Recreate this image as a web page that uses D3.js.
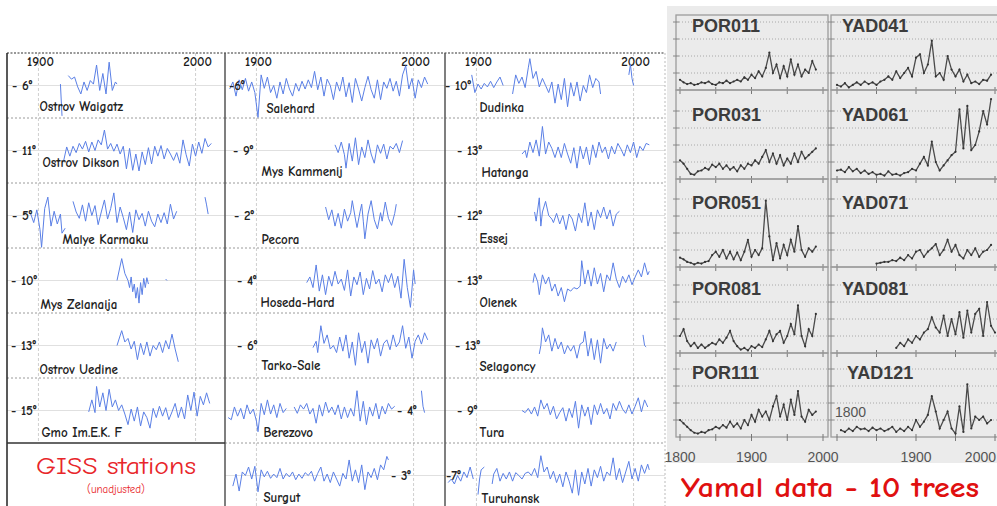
<!DOCTYPE html>
<html>
<head>
<meta charset="utf-8">
<script src="https://cdn.jsdelivr.net/npm/d3@7"></script>
<style>
  body { margin: 0; background: #fff; }
  svg { display: block; }
  .cs { font-family: "Comic Sans MS", "Comic Neue", "Open Sans", sans-serif; }
  .ar { font-family: "Liberation Sans", Arial, sans-serif; }
</style>
</head>
<body>
<svg id="chart" width="997" height="506"></svg>
<script>
// ---------- GISS stations (deviation in °C from the labelled level) ----------
const stationNames = ["Ostrov Waigatz", "Ostrov Dikson", "Malye Karmaku", "Mys Zelanaija", "Ostrov Uedine", "Gmo Im.E.K. F",
  "Salehard", "Mys Kammenij", "Pecora", "Hoseda-Hard", "Tarko-Sale", "Berezovo", "Surgut",
  "Dudinka", "Hatanga", "Essej", "Olenek", "Selagoncy", "Tura", "Turuhansk"];
const stationLevels = ["- 6°", "- 11°", "- 5°", "- 10°", "- 13°", "- 15°",
  "-6°", "- 9°", "- 2°", "- 4°", "- 6°", "- 4°", "- 3°",
  "- 10°", "- 13°", "- 12°", "- 13°", "- 13°", "- 9°", "-7°"];
const gissYearTicks = [1900, 2000];

const ostrovWaigatz = [[1914,0.2],[1915,-4.3],[1916,null],[1919,1.4],[1921,0.9],[1923,1.2],[1925,-0.2],[1927,-1.2],[1929,0.5],[1931,-0.7],[1933,0.7],[1935,0.2],[1937,2.9],[1939,-0.7],[1941,1.7],[1943,-1.2],[1945,3.3],[1947,-0.7],[1949,0.5],[1950,0.2]];
const ostrovDikson = [[1916,-1.5],[1918,0.5],[1920,-0.8],[1922,0.6],[1924,-0.3],[1926,1.0],[1928,0.2],[1930,1.3],[1932,-0.2],[1934,1.2],[1936,0.0],[1938,1.5],[1940,0.8],[1942,2.9],[1944,0.2],[1946,1.0],[1948,-0.1],[1950,0.9],[1952,-0.5],[1954,0.6],[1956,-2.6],[1958,0.3],[1960,-2.8],[1962,-0.5],[1964,-2.9],[1966,-0.2],[1968,-2.0],[1970,0.4],[1972,-1.9],[1974,0.6],[1976,-0.8],[1978,0.7],[1980,-1.2],[1982,0.3],[1984,-0.5],[1986,-1.4],[1988,-0.3],[1990,-1.8],[1992,1.5],[1994,-0.6],[1996,-2.2],[1998,0.9],[2000,-0.8],[2002,1.2],[2004,-0.4],[2006,1.7],[2008,0.5],[2010,1.0]];
const malyeKarmaku = [[1895,0.3],[1897,-1.0],[1899,0.8],[1901,-2.0],[1902,-4.5],[1904,1.0],[1906,2.6],[1908,-1.5],[1910,0.6],[1912,-1.2],[1914,0.2],[1915,-2.5],[1917,-1.8],[1918,null],[1922,2.0],[1924,0.5],[1926,-0.4],[1928,1.5],[1930,-0.8],[1932,1.8],[1934,0.0],[1936,1.4],[1938,-1.3],[1940,0.5],[1942,2.2],[1944,-0.5],[1946,1.0],[1948,3.2],[1950,-1.0],[1952,1.2],[1954,-0.3],[1956,-2.0],[1958,0.5],[1960,-2.4],[1962,0.8],[1964,-0.6],[1966,0.3],[1968,-1.5],[1970,0.6],[1972,-0.8],[1974,-1.6],[1976,0.2],[1978,-1.0],[1980,0.4],[1982,-1.2],[1984,1.6],[1986,-0.5],[1988,0.6],[1989,null],[2006,2.6],[2007,1.5],[2008,0.2]];
const mysZelanaija = [[1950,0.0],[1953,3.1],[1955,1.0],[1957,0.0],[1958,-1.0],[1959,0.5],[1960,-1.6],[1961,-0.5],[1962,-2.5],[1963,-1.0],[1964,-3.2],[1965,-0.3],[1966,-2.0],[1967,0.3],[1968,-1.0],[1969,0.4],[1970,-0.5],[1971,null],[1981,0.2],[1981.8,0.0]];
const ostrovUedine = [[1950,0.0],[1953,2.1],[1955,0.5],[1957,1.0],[1959,-0.5],[1961,0.6],[1963,-2.0],[1965,0.3],[1967,-1.3],[1969,0.5],[1971,-1.5],[1973,0.0],[1975,-0.6],[1977,0.5],[1979,-1.0],[1981,0.7],[1983,-0.5],[1985,1.6],[1987,-0.5],[1989,-2.3]];
const gmoImEKF = [[1932,-0.2],[1934,1.5],[1936,-0.3],[1937,3.4],[1939,0.5],[1941,2.5],[1943,0.0],[1945,3.0],[1947,0.5],[1949,1.5],[1951,0.0],[1953,0.8],[1955,-0.5],[1957,-2.0],[1959,0.2],[1961,-1.5],[1963,0.5],[1965,-2.2],[1967,-0.2],[1969,-1.0],[1971,-2.5],[1973,0.3],[1975,-1.0],[1977,0.6],[1979,-0.8],[1981,0.4],[1983,-1.3],[1985,-0.2],[1987,1.0],[1989,-1.0],[1991,0.5],[1993,-1.2],[1995,2.2],[1997,0.0],[1999,2.6],[2001,-0.8],[2003,2.0],[2005,0.8],[2007,2.5],[2009,1.0]];
const salehard = [[1883,-0.5],[1885,0.5],[1887,-1.5],[1889,0.8],[1891,-0.6],[1893,1.0],[1895,-0.8],[1897,0.5],[1899,-1.0],[1901,-4.5],[1903,1.5],[1905,-0.4],[1907,1.2],[1909,-1.0],[1911,0.0],[1913,-1.8],[1915,0.5],[1917,-1.2],[1919,1.0],[1921,-0.5],[1923,-1.5],[1925,0.3],[1927,-0.8],[1929,0.6],[1931,-0.5],[1933,0.8],[1935,-0.3],[1937,2.0],[1939,-0.6],[1941,1.2],[1943,-1.5],[1945,0.9],[1947,0.0],[1949,-2.0],[1951,0.5],[1953,-0.8],[1955,1.2],[1957,-1.6],[1959,0.4],[1961,-2.4],[1963,1.0],[1965,-0.5],[1967,-2.2],[1969,-0.3],[1971,1.3],[1973,-0.6],[1975,-1.8],[1977,0.8],[1979,-2.0],[1981,0.5],[1983,-0.4],[1985,1.0],[1987,-0.8],[1989,0.6],[1991,-1.5],[1993,1.5],[1995,2.8],[1997,-0.5],[1999,1.0],[2001,-1.8],[2003,0.8],[2005,-0.3],[2007,1.2],[2009,0.2]];
const mysKammenij = [[1950,0.8],[1952,-0.3],[1954,1.2],[1956,-0.6],[1957,-2.5],[1959,1.0],[1961,-1.5],[1963,1.8],[1965,-2.0],[1967,0.5],[1969,-1.0],[1971,1.5],[1973,-0.5],[1975,-1.8],[1977,0.8],[1979,-0.4],[1981,0.9],[1983,-1.2],[1985,0.6],[1987,0.2],[1989,1.0],[1991,-0.3],[1993,1.4]];
const pecora = [[1944,1.2],[1946,-0.6],[1948,0.8],[1950,-1.5],[1952,0.3],[1954,-1.8],[1956,0.9],[1958,-0.8],[1960,0.4],[1961,2.1],[1963,-0.5],[1964,-1.7],[1966,0.6],[1967,1.6],[1968,-0.8],[1969,-3.3],[1971,0.2],[1973,2.1],[1975,-0.6],[1977,-1.9],[1979,0.4],[1980,-0.8],[1982,1.9],[1984,-0.4],[1986,-1.4],[1988,0.3],[1989,1.6]];
const hosedaHard = [[1932,-0.3],[1934,0.5],[1936,-1.0],[1938,2.2],[1940,-1.5],[1942,0.8],[1944,-2.0],[1946,0.6],[1948,-0.8],[1950,1.3],[1952,-0.5],[1954,0.2],[1956,-1.4],[1958,1.5],[1960,-2.2],[1962,0.5],[1964,-0.6],[1966,1.2],[1968,-2.0],[1970,0.3],[1972,-1.2],[1974,1.4],[1976,-0.5],[1978,0.2],[1980,-1.6],[1982,0.8],[1984,-0.3],[1986,1.0],[1988,-1.0],[1990,0.6],[1992,-2.5],[1994,3.0],[1996,-1.0],[1998,-3.8],[2000,1.5],[2001,-0.5]];
const tarkoSale = [[1936,-0.3],[1938,0.6],[1939,-1.0],[1941,2.8],[1943,0.3],[1945,1.5],[1947,-0.5],[1949,0.0],[1951,-1.0],[1953,1.2],[1955,-0.8],[1957,1.5],[1959,-1.8],[1961,0.5],[1963,-2.8],[1965,1.8],[1967,-1.0],[1969,0.6],[1971,-2.5],[1973,0.8],[1975,-0.5],[1977,1.0],[1979,-1.5],[1981,0.3],[1983,0.8],[1985,-0.6],[1987,1.5],[1989,-0.2],[1991,0.5],[1993,2.8],[1995,-0.4],[1997,1.2],[1999,-1.8],[2001,0.6],[2003,1.5],[2005,0.2],[2007,1.8],[2009,0.8]];
const berezovo = [[1882,-1.0],[1884,-1.3],[1886,0.5],[1888,-0.8],[1890,0.3],[1892,-1.2],[1894,0.8],[1896,-0.5],[1898,0.2],[1900,-1.5],[1901,-3.0],[1903,1.0],[1905,-0.6],[1907,1.5],[1909,-0.5],[1911,0.8],[1913,-1.0],[1915,1.0],[1917,-0.3],[1919,0.3],[1921,null],[1924,0.5],[1926,-0.4],[1928,0.8],[1930,0.2],[1932,1.0],[1934,-0.5],[1936,0.3],[1938,-1.8],[1940,0.8],[1942,-0.8],[1944,1.2],[1946,-0.3],[1948,0.5],[1950,-0.6],[1952,0.8],[1954,-1.2],[1956,0.5],[1958,-1.0],[1960,0.3],[1962,-0.8],[1964,2.8],[1966,-1.5],[1968,1.3],[1970,-2.0],[1972,0.5],[1974,-0.8],[1976,1.0],[1978,-1.2],[1980,0.6],[1982,-0.5],[1984,1.0],[1986,0.2],[1988,0.6],[1989,null],[2005,2.8],[2006,0.6],[2007,-0.3]];
const surgut = [[1885,-1.5],[1887,0.2],[1889,-2.2],[1891,0.5],[1893,0.0],[1895,1.2],[1897,-0.5],[1899,1.3],[1901,-2.3],[1903,0.8],[1905,-0.2],[1907,0.6],[1909,-0.4],[1911,0.2],[1913,-0.3],[1915,1.0],[1917,-0.5],[1919,0.3],[1921,-0.2],[1923,0.5],[1925,-0.6],[1927,0.2],[1929,-0.4],[1931,0.4],[1933,0.0],[1935,0.6],[1937,-0.8],[1939,0.3],[1941,1.2],[1943,-0.8],[1945,0.2],[1947,-1.0],[1949,0.5],[1951,-0.5],[1953,-1.5],[1955,0.3],[1957,-0.5],[1959,2.2],[1961,-0.8],[1963,0.8],[1965,-1.0],[1967,1.5],[1969,-2.0],[1971,0.5],[1973,-0.3],[1975,1.0],[1977,-0.6],[1979,1.5],[1981,0.8],[1983,2.7],[1984,2.2]];
const dudinka = [[1897,1.5],[1899,-1.0],[1901,0.2],[1903,-0.5],[1905,0.3],[1907,-0.2],[1909,0.6],[1911,-0.3],[1913,0.5],[1915,1.2],[1917,0.0],[1918,null],[1923,-1.2],[1925,1.5],[1927,0.3],[1929,1.2],[1931,-0.3],[1933,2.5],[1934,3.8],[1936,1.0],[1938,2.0],[1940,-0.2],[1942,1.0],[1944,0.0],[1946,-1.0],[1948,0.5],[1950,-2.5],[1952,0.2],[1954,-2.0],[1956,1.0],[1958,-3.0],[1960,0.4],[1962,-1.5],[1964,0.5],[1966,-2.2],[1968,0.0],[1970,-1.0],[1972,1.5],[1974,-0.3],[1976,1.0],[1978,0.5],[1979,-1.2],[1980,null],[1997,1.5],[1998,3.0],[1999,1.0],[2000,0.0]];
const hatanga = [[1929,-0.5],[1931,0.0],[1932,-1.0],[1934,1.2],[1936,-0.3],[1938,1.5],[1940,-0.8],[1942,3.4],[1944,-0.5],[1946,1.2],[1948,0.3],[1950,-1.0],[1952,0.5],[1954,-1.0],[1956,1.0],[1958,-0.5],[1960,-1.8],[1962,0.4],[1964,-2.5],[1966,0.6],[1968,-1.2],[1970,0.5],[1972,-2.0],[1974,0.8],[1976,-1.0],[1978,1.2],[1980,-0.3],[1982,0.5],[1984,-1.2],[1986,0.6],[1988,-0.5],[1990,1.0],[1992,0.2],[1994,-0.8],[1996,0.8],[1998,-0.3],[2000,1.2],[2002,-1.0],[2004,0.6],[2006,0.0],[2008,1.0],[2010,0.8]];
const essej = [[1937,0.5],[1938,-0.8],[1940,2.5],[1941,-1.5],[1942,0.5],[1944,2.0],[1946,0.0],[1948,-0.5],[1949,-1.0],[1951,0.3],[1953,-1.2],[1955,0.0],[1957,-2.0],[1959,0.2],[1961,-0.5],[1963,-2.2],[1965,0.3],[1967,-1.0],[1969,1.8],[1971,-1.5],[1973,0.5],[1975,-2.0],[1977,0.8],[1979,-0.3],[1981,1.2],[1983,-0.5],[1985,0.8],[1987,-1.5],[1989,0.2],[1991,0.6]];
const olenek = [[1936,-0.3],[1937,1.0],[1939,-0.2],[1940,-2.0],[1942,0.8],[1944,-0.5],[1946,0.5],[1948,-1.5],[1950,-0.5],[1952,-2.2],[1954,-1.0],[1956,-3.0],[1958,-1.2],[1960,-1.5],[1962,-1.0],[1964,-1.2],[1966,-0.8],[1967,2.8],[1969,-0.5],[1971,1.5],[1973,-0.8],[1975,1.8],[1977,-0.5],[1979,1.0],[1981,-1.6],[1983,0.8],[1985,0.0],[1987,2.5],[1989,0.2],[1991,-1.0],[1993,0.6],[1995,-0.3],[1997,0.8],[1999,-0.6],[2001,0.5],[2003,1.5],[2005,0.5],[2007,2.5],[2009,0.8],[2010,1.3]];
const selagoncy = [[1940,-1.2],[1941,0.0],[1942,2.5],[1944,0.5],[1946,1.5],[1948,-0.8],[1950,1.0],[1952,-0.5],[1954,0.5],[1956,-1.2],[1958,0.0],[1960,-0.8],[1962,0.0],[1964,-1.8],[1966,0.2],[1968,0.5],[1969,2.0],[1971,-1.5],[1973,1.0],[1975,-2.0],[1977,0.8],[1979,-2.5],[1981,1.0],[1983,-0.5],[1985,0.2],[1987,-0.8],[1989,0.5],[1990,null],[2006,1.5],[2007,0.0],[2008,-0.2]];
const tura = [[1929,0.0],[1931,-0.3],[1933,0.3],[1935,-0.5],[1937,0.5],[1939,-0.8],[1941,1.5],[1943,0.2],[1945,1.0],[1947,-0.6],[1949,0.6],[1951,-1.2],[1953,-0.3],[1955,0.4],[1957,-1.5],[1959,0.3],[1961,-1.0],[1963,1.3],[1965,-2.5],[1967,0.8],[1969,-0.8],[1971,0.5],[1973,-2.0],[1975,0.8],[1977,-0.6],[1979,1.0],[1981,-0.5],[1983,0.3],[1985,-1.2],[1987,1.0],[1989,0.0],[1991,1.3],[1993,0.2],[1995,-0.4],[1997,0.8],[1999,-0.5],[2001,0.6],[2003,1.8],[2005,-0.2],[2007,1.5],[2009,0.5]];
const turuhansk = [[1882,-1.0],[1884,-0.5],[1886,-1.2],[1888,0.0],[1890,-0.8],[1892,0.5],[1894,-0.3],[1896,1.2],[1898,-0.5],[1899,null],[1901,-2.7],[1902,-0.5],[1903,0.8],[1905,1.2],[1906,null],[1910,-1.2],[1911,0.2],[1913,1.0],[1915,-0.8],[1917,0.3],[1919,-0.5],[1921,0.5],[1923,-0.8],[1925,0.4],[1927,0.0],[1929,-0.5],[1931,0.3],[1933,0.5],[1935,0.0],[1937,1.0],[1939,-0.3],[1941,2.8],[1943,0.5],[1945,1.2],[1947,-0.5],[1949,0.6],[1951,-1.0],[1953,0.2],[1955,-1.6],[1957,0.5],[1959,-0.8],[1961,-2.5],[1963,0.8],[1965,-2.8],[1967,0.5],[1969,-1.2],[1971,1.0],[1973,-1.5],[1975,0.8],[1977,-0.3],[1979,1.3],[1981,-0.8],[1983,0.5],[1985,0.0],[1987,2.5],[1989,-0.6],[1991,1.0],[1993,-1.0],[1995,0.5],[1997,2.0],[1999,-0.5],[2001,1.0],[2003,-0.8],[2005,1.5],[2007,0.3],[2009,1.6],[2010,0.8]];

const stationSeries = [ostrovWaigatz, ostrovDikson, malyeKarmaku, mysZelanaija, ostrovUedine, gmoImEKF,
  salehard, mysKammenij, pecora, hosedaHard, tarkoSale, berezovo, surgut,
  dudinka, hatanga, essej, olenek, selagoncy, tura, turuhansk];

// ---------- Yamal trees (ring-width index, every 5 years from the start year) ----------
const treeNames = ["POR011", "POR031", "POR051", "POR081", "POR111", "YAD041", "YAD061", "YAD071", "YAD081", "YAD121"];
const treeStart = [1800, 1800, 1800, 1800, 1800, 1800, 1800, 1850, 1875, 1805];
const por011 = [0.6,0.45,0.35,0.4,0.3,0.35,0.45,0.4,0.5,0.35, 0.3,0.45,0.4,0.55,0.4,0.5,0.6,0.5,0.75,0.6, 0.9,0.7,1.1,0.8,1.3,2.2,1.0,1.5,0.7,1.4, 0.8,1.8,0.9,1.5,0.8,1.2,1.0,1.7,1.2];
const por031 = [1.1,0.9,0.6,0.3,0.25,0.45,0.5,0.65,0.55,0.85, 0.7,0.9,0.6,0.8,0.55,0.7,0.45,0.8,0.6,0.9, 0.8,1.1,0.9,1.3,1.7,1.0,1.5,0.9,1.4,0.8, 1.2,0.9,1.5,1.0,1.6,1.2,1.4,1.6,1.8];
const por051 = [0.55,0.45,0.3,0.25,0.15,0.25,0.2,0.3,0.35,0.7, 0.9,0.6,1.0,0.5,0.9,0.45,0.85,0.4,0.9,1.6, 0.6,1.0,0.7,1.1,3.9,1.8,0.4,1.4,0.5,1.3, 0.7,1.6,0.9,2.4,1.0,0.6,1.1,0.9,1.2];
const por081 = [1.0,1.4,0.7,0.4,0.6,0.3,0.5,0.3,0.45,0.6, 0.5,0.8,0.6,0.9,1.3,0.7,0.4,0.2,0.3,0.15, 0.4,0.3,0.5,0.35,0.8,1.3,0.7,1.1,1.3,0.6, 1.0,1.7,1.1,2.8,1.0,0.4,1.4,1.0,2.3];
const por111 = [1.0,0.8,0.6,0.4,0.25,0.2,0.3,0.25,0.4,0.45, 0.6,0.5,0.7,0.55,0.9,0.6,0.8,0.5,1.0,0.7, 1.3,0.9,1.6,1.2,1.5,1.0,1.8,2.4,1.2,1.9, 1.0,2.2,1.3,2.7,1.2,0.9,1.6,1.3,1.5];
const yad041 = [0.3,0.2,0.4,0.15,0.3,0.45,0.3,0.5,0.35,0.45, 0.3,0.5,0.6,0.8,0.6,1.1,0.7,1.0,1.3,0.8, 1.9,2.1,1.0,1.5,2.9,0.8,1.0,0.6,2.0,1.2, 0.8,1.2,0.5,0.9,0.4,0.5,0.35,0.6,0.55,0.9];
const yad061 = [0.5,0.55,0.4,0.7,0.45,0.6,0.35,0.5,0.3,0.4, 0.25,0.3,0.2,0.45,0.25,0.3,0.2,0.35,0.4,0.6, 0.5,0.9,1.3,0.8,2.2,1.0,0.5,0.8,1.1,1.4, 1.6,4.1,1.8,4.3,1.7,2.0,2.8,4.0,3.2,4.7];
const yad071 = [0.2,0.25,0.3,0.3,0.4,0.35,0.55,0.4,0.7,0.5, 0.9,1.0,0.6,0.9,1.1,1.35,0.7,1.0,1.6,0.9, 1.3,0.7,0.5,1.0,0.7,1.1,0.6,0.9,1.0,1.3];
const yad081 = [0.3,0.6,0.4,0.8,0.6, 1.0,0.8,1.2,1.4,2.1,1.5,1.2,2.2,1.0,2.0, 1.1,2.4,0.9,2.5,1.2,2.3,2.6,1.0,3.0,1.6,1.2];
const yad121 = [0.4,0.3,0.5,0.35,0.6,0.45,0.5,0.35,0.55, 0.4,0.5,0.35,0.45,0.6,0.3,0.5,0.35,0.6,0.4, 1.0,0.6,0.9,1.3,2.4,1.5,0.5,1.0,1.5,0.5, 0.2,1.8,0.3,3.1,0.5,1.2,1.0,1.2,0.8,1.0];
const treeSeries = [por011, por031, por051, por081, por111, yad041, yad061, yad071, yad081, yad121];
const treeYearTicks = [1800, 1850, 1900, 1950, 2000];
const treeYearLabels = [1800, 1900, 2000];

const svg = d3.select('#chart');

// ================= GISS panel =================
const colLeft = [7, 225, 445];
const colRows = [6, 7, 7];
const colBottom = [443, 506, 506];
const rowH = 65, top0 = 53;
const xCol = colLeft.map(l => d3.scaleLinear().domain([1880, 2020]).range([l, l + 220]));

// layout of the text labels (offsets only)
const levelDx = [5, 5, 5, 4, 4, 4, 4, 8, 9, 12, 12, 172, 166, 0, 12, 12, 12, 10, 12, 1];
const nameDx = [1, 4, 24, 2, 1, 3, 10, 5, 5, 4, 5, 7, 7, 3, 5, 3, 3, 3, 3, 5];
const nameDy = [58, 49, 61, 61, 61, 59, 60, 58, 61, 59, 57, 59, 59, 59, 59, 60, 59, 58, 59, 60];

const gissG = svg.append('g');

colLeft.forEach((l, c) => {
  const g = gissG.append('g');
  // vertical grid at 1900 / 2000
  g.selectAll('line.v').data(gissYearTicks).join('line')
    .attr('x1', d => xCol[c](d)).attr('x2', d => xCol[c](d))
    .attr('y1', top0).attr('y2', colBottom[c])
    .attr('stroke', '#cfcfcf').attr('stroke-dasharray', '3,2');
  const rows = d3.range(colRows[c]);
  // level lines
  g.selectAll('line.lv').data(rows).join('line')
    .attr('x1', l).attr('x2', l + 220)
    .attr('y1', r => top0 + r * rowH + 32.5).attr('y2', r => top0 + r * rowH + 32.5)
    .attr('stroke', '#e0e0e0');
  // row boundaries
  g.selectAll('line.rb').data(rows.filter(r => top0 + (r + 1) * rowH < colBottom[c] - 2)).join('line')
    .attr('x1', l).attr('x2', l + 220)
    .attr('y1', r => top0 + (r + 1) * rowH).attr('y2', r => top0 + (r + 1) * rowH)
    .attr('stroke', '#9a9a9a').attr('stroke-dasharray', '2,2');
  g.selectAll('text.yr').data(gissYearTicks).join('text')
    .attr('class', 'cs')
    .attr('x', d => xCol[c](d) + 2).attr('y', 66)
    .attr('text-anchor', 'middle')
    .attr('font-size', 13).attr('font-weight', 'bold').attr('fill', '#1a1a1a')
    .text(d => d);
});

// frame
gissG.append('line').attr('x1', 7).attr('x2', 665).attr('y1', top0).attr('y2', top0)
  .attr('stroke', '#333').attr('stroke-width', 1.2).attr('stroke-dasharray', '2,1.5');
gissG.append('line').attr('x1', 7).attr('x2', 7).attr('y1', top0).attr('y2', 506)
  .attr('stroke', '#222').attr('stroke-width', 1.5);
gissG.selectAll('line.sep').data([225, 445]).join('line')
  .attr('x1', d => d).attr('x2', d => d).attr('y1', top0).attr('y2', 506)
  .attr('stroke', '#555').attr('stroke-width', 1.5);
gissG.append('line').attr('x1', 665).attr('x2', 665).attr('y1', top0).attr('y2', 506)
  .attr('stroke', '#bbb').attr('stroke-dasharray', '2,2');
gissG.append('line').attr('x1', 7).attr('x2', 225).attr('y1', 443).attr('y2', 443)
  .attr('stroke', '#333').attr('stroke-width', 1.5);

const slot = i => i < 6 ? [0, i] : (i < 13 ? [1, i - 6] : [2, i - 13]);

stationSeries.forEach((series, i) => {
  const [c, r] = slot(i);
  const rt = top0 + r * rowH;
  const y = d3.scaleLinear().domain([-4.6, 4.6]).range([rt + rowH, rt]);
  const line = d3.line()
    .defined(d => d[1] !== null)
    .x(d => xCol[c](d[0]))
    .y(d => y(d[1]));
  gissG.append('path')
    .datum(series)
    .attr('d', line)
    .attr('fill', 'none')
    .attr('stroke', '#5a7fe6')
    .attr('stroke-width', 1)
    .attr('stroke-linejoin', 'round');

  gissG.append('text').attr('class', 'cs')
    .attr('x', colLeft[c] + levelDx[i]).attr('y', y(0) + 4)
    .attr('font-size', 13).attr('font-weight', 'bold').attr('fill', '#222')
    .text(stationLevels[i]);
  gissG.append('text').attr('class', 'cs')
    .attr('x', xCol[c](1900) + nameDx[i]).attr('y', rt + nameDy[i])
    .attr('font-size', 13).attr('font-weight', 'bold').attr('fill', '#222')
    .text(stationNames[i]);
});

gissG.append('text').attr('class', 'cs')
  .attr('x', 116).attr('y', 474).attr('text-anchor', 'middle')
  .attr('font-size', 24).attr('fill', '#e8262a')
  .attr('textLength', 160).attr('lengthAdjust', 'spacingAndGlyphs')
  .text('GISS stations');
gissG.append('text').attr('class', 'cs')
  .attr('x', 116).attr('y', 493).attr('text-anchor', 'middle')
  .attr('font-size', 11).attr('fill', '#e8262a')
  .text('(unadjusted)');

// ================= Yamal panel =================
svg.append('rect').attr('x', 667).attr('y', 6).attr('width', 330).attr('height', 457).attr('fill', '#ebebeb');

const rowEdges = [15, 90, 179, 267, 353, 437];
const frameX = [[676, 828], [831, 1002]];
const xTree = [
  d3.scaleLinear().domain([1800, 2000]).range([680, 823]),
  d3.scaleLinear().domain([1800, 2000]).range([837, 995])
];
const unit = 17;

const treeG = svg.append('g');

treeSeries.forEach((vals, i) => {
  const c = i < 5 ? 0 : 1;
  const r = i % 5;
  const t = rowEdges[r], b = rowEdges[r + 1];
  const [fx0, fx1] = frameX[c];
  const g = treeG.append('g');

  g.append('rect').attr('x', fx0).attr('y', t).attr('width', fx1 - fx0).attr('height', b - t)
    .attr('fill', 'none').attr('stroke', '#9c9c9c').attr('stroke-width', 1.3);

  const grid = d3.range(1, 6).map(k => b - k * unit).filter(v => v > t + 4);
  g.selectAll('line.g').data(grid).join('line')
    .attr('x1', fx0).attr('x2', fx1).attr('y1', d => d).attr('y2', d => d)
    .attr('stroke', '#a8a8a8').attr('stroke-dasharray', '1,2');
  g.selectAll('line.lt').data(grid).join('line')
    .attr('x1', fx0 - 3).attr('x2', fx0 + 3).attr('y1', d => d).attr('y2', d => d)
    .attr('stroke', '#888');
  g.selectAll('line.bt').data(treeYearTicks).join('line')
    .attr('x1', d => xTree[c](d)).attr('x2', d => xTree[c](d))
    .attr('y1', b - 3).attr('y2', b + 4)
    .attr('stroke', '#777');

  const pts = vals.map((v, k) => [treeStart[i] + 5 * k, v]);
  const y = d3.scaleLinear().domain([0, 1]).range([b, b - unit]);
  const line = d3.line().x(d => xTree[c](d[0])).y(d => y(d[1]));
  g.append('path').datum(pts).attr('d', line)
    .attr('fill', 'none').attr('stroke', '#4a4a4a').attr('stroke-width', 1.3);
  g.selectAll('circle').data(pts).join('circle')
    .attr('cx', d => xTree[c](d[0])).attr('cy', d => y(d[1])).attr('r', 1.1)
    .attr('fill', '#333');

  g.append('text').attr('class', 'ar')
    .attr('x', fx0 + (c === 0 ? 16 : 11 + (r === 4 ? 5 : 0)))
    .attr('y', b - 58)
    .attr('font-size', 18).attr('font-weight', 'bold').attr('fill', '#3c3c3c')
    .text(treeNames[i]);
});

treeG.append('text').attr('class', 'ar')
  .attr('x', 835).attr('y', 417).attr('font-size', 14).attr('fill', '#555')
  .text('1800');

xTree.forEach((x, c) => {
  treeG.selectAll(null).data(c === 0 ? treeYearLabels : treeYearLabels.slice(1)).join('text')
    .attr('class', 'ar')
    .attr('x', d => (c === 1 && d === 2000) ? 996 : x(d)).attr('y', 462)
    .attr('text-anchor', d => (c === 1 && d === 2000) ? 'end' : 'middle')
    .attr('font-size', 14).attr('fill', '#555')
    .text(d => d);
});

treeG.append('text').attr('class', 'cs')
  .attr('x', 830).attr('y', 497).attr('text-anchor', 'middle')
  .attr('font-size', 28).attr('font-weight', 'bold').attr('fill', '#e01010')
  .attr('textLength', 298).attr('lengthAdjust', 'spacingAndGlyphs')
  .text('Yamal data - 10 trees');
</script>
</body>
</html>
